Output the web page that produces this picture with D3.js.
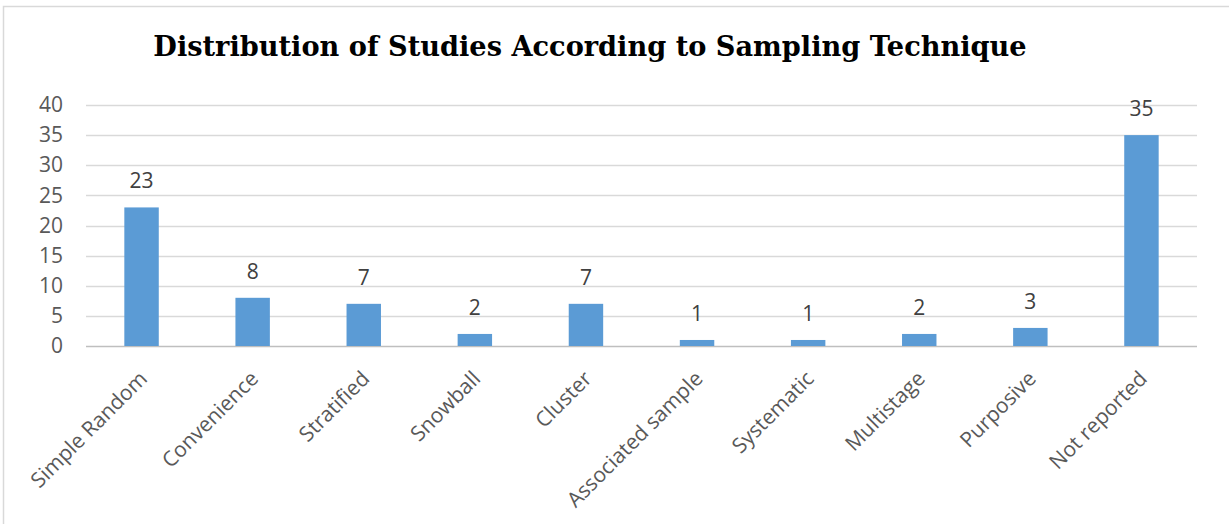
<!DOCTYPE html>
<html>
<head>
<meta charset="utf-8">
<script src="https://cdn.jsdelivr.net/npm/d3@7"></script>
<style>
  html, body { margin: 0; padding: 0; background: #fff; }
  svg { display: block; }
</style>
</head>
<body>
<script>
// Sampling techniques and the number of studies using each
const categories = ["Simple Random", "Convenience", "Stratified", "Snowball", "Cluster",
  "Associated sample", "Systematic", "Multistage", "Purposive", "Not reported"];
const studies = [23, 8, 7, 2, 7, 1, 1, 2, 3, 35];
const yTicks = [0, 5, 10, 15, 20, 25, 30, 35, 40];
const chartTitle = "Distribution of Studies According to Sampling Technique";

const W = 1229, H = 524;
const plot = { left: 86, right: 1197, top: 105, bottom: 346 };
const labelFont = "'Open Sans', 'Noto Sans', sans-serif";

const svg = d3.select("body").append("svg")
  .attr("width", W).attr("height", H);

// chart frame (only top and left edges fall inside the view)
svg.append("rect")
  .attr("x", 3.5).attr("y", 6.5)
  .attr("width", W + 10).attr("height", H + 10)
  .attr("fill", "#fff")
  .attr("stroke", "#d9d9d9").attr("stroke-width", 1.5);

const x = d3.scaleBand()
  .domain(categories)
  .range([plot.left, plot.right])
  .paddingInner(0.69).paddingOuter(0.345);

const y = d3.scaleLinear()
  .domain([0, 40])
  .range([plot.bottom, plot.top]);

// horizontal gridlines
svg.append("g")
  .selectAll("line")
  .data(yTicks)
  .join("line")
  .attr("x1", plot.left).attr("x2", plot.right)
  .attr("y1", d => Math.round(y(d)) + 0.5)
  .attr("y2", d => Math.round(y(d)) + 0.5)
  .attr("stroke", d => d === 0 ? "#bfbfbf" : "#d9d9d9")
  .attr("stroke-width", 1.3);

// y axis labels
const yAxis = d3.axisLeft(y).tickValues(yTicks).tickSize(0).tickPadding(0);
const yG = svg.append("g")
  .attr("transform", `translate(${plot.left - 23},0)`)
  .call(yAxis);
yG.select(".domain").remove();
yG.selectAll("text")
  .attr("fill", "#595959")
  .style("font-family", labelFont)
  .style("font-size", "21px");

// bars
svg.append("g")
  .selectAll("rect")
  .data(studies)
  .join("rect")
  .attr("x", (d, i) => x(categories[i]))
  .attr("y", d => y(d))
  .attr("width", x.bandwidth())
  .attr("height", d => y(0) - y(d))
  .attr("fill", "#5b9bd5");

// value labels above bars
svg.append("g")
  .selectAll("text")
  .data(studies)
  .join("text")
  .attr("x", (d, i) => x(categories[i]) + x.bandwidth() / 2)
  .attr("y", d => y(d) - 19)
  .attr("text-anchor", "middle")
  .attr("fill", "#404040")
  .style("font-family", labelFont)
  .style("font-size", "21px")
  .text(d => d);

// rotated category labels
svg.append("g")
  .selectAll("text")
  .data(categories)
  .join("text")
  .attr("transform", d => `translate(${x(d) + x.bandwidth() / 2 + 7},${380}) rotate(-45)`)
  .attr("text-anchor", "end")
  .attr("fill", "#595959")
  .style("font-family", labelFont)
  .style("font-size", "21px")
  .text(d => d);

// title
svg.append("text")
  .attr("x", 590).attr("y", 56)
  .attr("text-anchor", "middle")
  .attr("fill", "#000")
  .style("font-family", "'DejaVu Serif', 'Liberation Serif', serif")
  .style("font-weight", "bold")
  .style("font-size", "27.2px")
  .text(chartTitle);
</script>
</body>
</html>
